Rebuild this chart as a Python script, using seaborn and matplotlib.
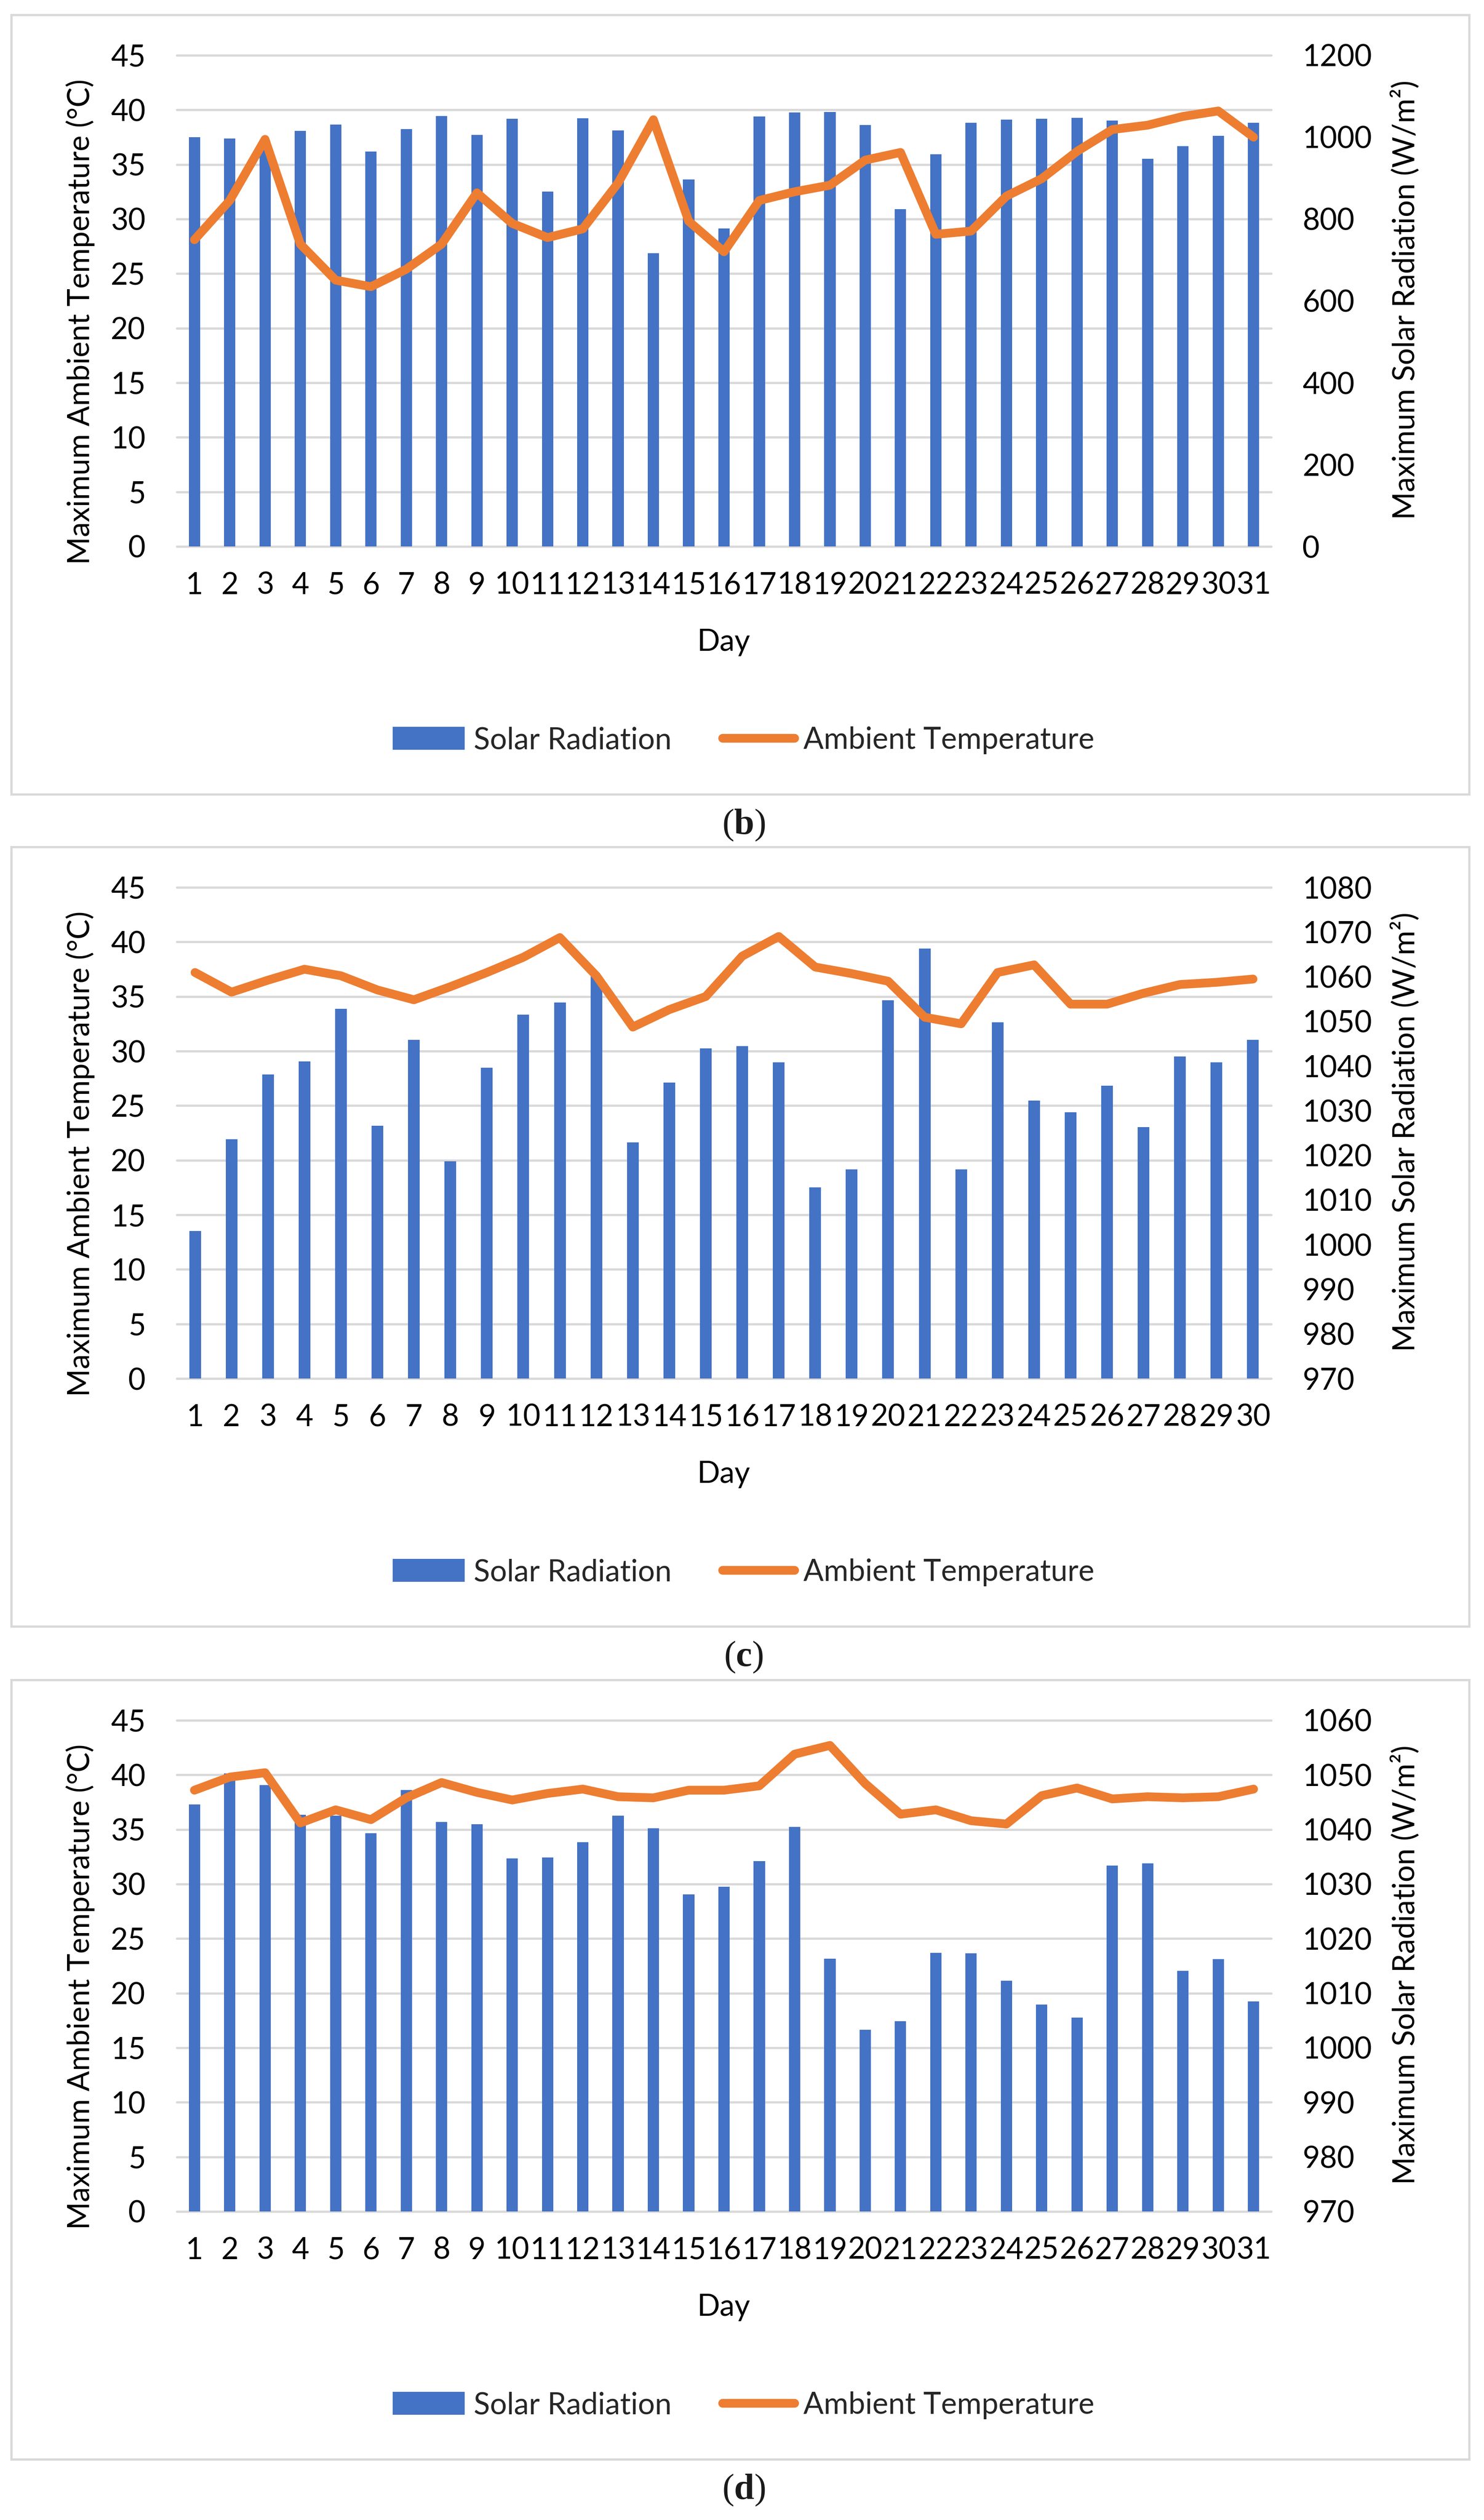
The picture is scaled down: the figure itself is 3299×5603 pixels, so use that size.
import numpy as np
import pandas as pd
import matplotlib
matplotlib.use("Agg")
import matplotlib.pyplot as plt
import seaborn as sns
from matplotlib.patches import Rectangle, Patch
from matplotlib.lines import Line2D

# ---------------- data ----------------
days_b = list(range(1, 32))
temp_b = [28.1, 31.7, 37.3, 27.7, 24.4, 23.8, 25.4, 27.7, 32.4, 29.6, 28.3, 29.1, 33.3, 39.1, 29.8, 27.0,
          31.7, 32.5, 33.1, 35.4, 36.1, 28.6, 28.9, 32.1, 33.7, 36.2, 38.2, 38.6, 39.4, 39.9, 37.5]
rad_b = [1000, 997, 970, 1015, 1031, 965, 1020, 1052, 1006, 1045, 867, 1046, 1016, 716, 897, 777,
         1051, 1060, 1061, 1030, 824, 958, 1035, 1043, 1045, 1047, 1041, 947, 978, 1003, 1035]

days_c = list(range(1, 31))
temp_c = [37.2, 35.4, 36.5, 37.5, 36.9, 35.6, 34.7, 35.9, 37.2, 38.6, 40.4, 36.9, 32.2, 33.8, 35.0,
          38.7, 40.5, 37.7, 37.1, 36.4, 33.1, 32.5, 37.2, 37.9, 34.3, 34.3, 35.3, 36.1, 36.3, 36.6]
rad_c = [1003.0, 1023.6, 1038.1, 1041.0, 1052.8, 1026.6, 1045.9, 1018.7, 1039.6, 1051.5, 1054.2, 1060.1,
         1022.9, 1036.3, 1043.9, 1044.4, 1040.8, 1012.8, 1016.8, 1054.7, 1066.3, 1016.8, 1049.8, 1032.3,
         1029.6, 1035.6, 1026.3, 1042.1, 1040.8, 1045.9]

days_d = list(range(1, 32))
temp_d = [38.6, 39.8, 40.2, 35.6, 36.8, 35.9, 37.9, 39.3, 38.4, 37.7, 38.3, 38.7, 38.0, 37.9, 38.6, 38.6,
          39.0, 41.9, 42.7, 39.2, 36.4, 36.8, 35.8, 35.5, 38.1, 38.8, 37.8, 38.0, 37.9, 38.0, 38.7]
rad_d = [1044.6, 1050.3, 1048.1, 1042.7, 1042.5, 1039.3, 1047.2, 1041.4, 1041.0, 1034.7, 1034.9, 1037.7,
         1042.5, 1040.2, 1028.1, 1029.5, 1034.2, 1040.5, 1016.3, 1003.3, 1004.9, 1017.4, 1017.3, 1012.3,
         1007.9, 1005.5, 1033.4, 1033.8, 1014.1, 1016.2, 1008.5]

temp_ticks = list(range(0, 46, 5))
rad_ticks_b = list(range(0, 1201, 200))
rad_ticks_c = list(range(970, 1081, 10))
rad_ticks_d = list(range(970, 1061, 10))
captions = ["b", "c", "d"]

left_label = "Maximum Ambient Temperature (\u00b0C)"
right_label = "Maximum Solar Radiation (W/m\u00b2)"
x_label = "Day"
series_names = ["Solar Radiation", "Ambient Temperature"]

# ---------------- style ----------------
BLUE = "#4472C4"
ORANGE = "#ED7D31"
GRID = "#D9D9D9"
W, H, DPI = 3299, 5603, 100
FS = 48
LW = 14

sns.set_theme(style="white")
plt.rcParams["font.family"] = ["Lato", "DejaVu Sans"]
plt.rcParams["mathtext.fontset"] = "custom"
plt.rcParams["mathtext.rm"] = "Liberation Serif"
plt.rcParams["mathtext.bf"] = "Liberation Serif:bold"

fig = plt.figure(figsize=(W / DPI, H / DPI), dpi=DPI, facecolor="white")

panels = [
    (days_b, temp_b, rad_b, rad_ticks_b, 0),
    (days_c, temp_c, rad_c, rad_ticks_c, 1850),
    (days_d, temp_d, rad_d, rad_ticks_d, 3702),
]

PL, PR, PT, PB = 393, 2826, 123, 1215

for (days, temp, rad, rticks, off), cap in zip(panels, captions):
    df = pd.DataFrame({"Day": days, "Temp": temp, "Rad": rad})
    rect = [PL / W, 1 - (PB + off) / H, (PR - PL) / W, (PB - PT) / H]

    ax_g = fig.add_axes(rect)
    ax_b = ax_g.twinx()
    ax_l = fig.add_axes(rect, sharex=ax_g, sharey=ax_g)
    ax_g.set_zorder(1)
    ax_b.set_zorder(2)
    ax_l.set_zorder(3)
    ax_b.patch.set_visible(False)
    ax_l.patch.set_visible(False)

    sns.barplot(data=df, x="Day", y="Rad", ax=ax_b, native_scale=True, width=0.32,
                color=BLUE, saturation=1, linewidth=0, errorbar=None)
    sns.lineplot(data=df, x="Day", y="Temp", ax=ax_l, color=ORANGE, linewidth=LW,
                 solid_capstyle="round", solid_joinstyle="round", legend=False)

    ax_g.set_xlim(0.5, len(days) + 0.5)
    ax_g.set_ylim(temp_ticks[0], temp_ticks[-1])
    ax_g.set_yticks(temp_ticks)
    ax_g.set_xticks(days)
    ax_g.set_xticklabels([str(d) for d in days])
    ax_b.set_ylim(rticks[0], rticks[-1])
    ax_b.set_yticks(rticks)
    ax_b.set_yticklabels([str(t) for t in rticks])

    ax_g.grid(axis="y", color=GRID, linewidth=3.6)
    ax_g.grid(axis="x", visible=False)
    for gl in ax_g.yaxis.get_gridlines():
        gl.set_clip_on(False)
    ax_b.grid(False)
    ax_l.axis("off")
    for a in (ax_g, ax_b):
        for s in a.spines.values():
            s.set_visible(False)
    ax_g.tick_params(axis="y", length=0, pad=50, labelsize=FS, labelcolor="black")
    ax_g.tick_params(axis="x", length=0, pad=40, labelsize=FS, labelcolor="black")
    ax_b.tick_params(axis="y", length=0, pad=50, labelsize=FS, labelcolor="black")

    ax_g.set_ylabel(left_label, fontsize=FS, color="black")
    ax_g.yaxis.set_label_coords(-0.088, 0.458)
    ax_g.yaxis.label.set_verticalalignment("center")
    ax_b.set_ylabel(right_label, fontsize=FS, color="black", rotation=90)
    ax_b.yaxis.set_label_coords(1.1225, 0.502)
    ax_b.yaxis.label.set_verticalalignment("center")
    ax_g.set_xlabel(x_label, fontsize=FS, color="black")
    ax_g.xaxis.set_label_coords(0.5, (PB - 1428) / (PB - PT))
    ax_g.xaxis.label.set_verticalalignment("center")

    handles = [Patch(facecolor=BLUE, edgecolor="none"),
               Line2D([0], [0], color=ORANGE, linewidth=LW, solid_capstyle="round")]
    ax_g.legend(handles, series_names, loc="center", ncol=2, frameon=False,
                bbox_to_anchor=((1653 - PL) / (PR - PL), (PB - 1646) / (PB - PT)),
                fontsize=FS, handlelength=2.4, handletextpad=0.3, columnspacing=1.7,
                handleheight=0.8)

    fig.add_artist(Rectangle((25 / W, 1 - (1766 + off) / H), (3266 - 25) / W, (1766 - 33) / H,
                             transform=fig.transFigure, fill=False, edgecolor=GRID, linewidth=3.6))
    fig.text(1653 / W, 1 - (1835 + off) / H, "($\\mathbf{%s}$)" % cap, ha="center", va="center",
             fontsize=58, family=["Liberation Serif", "DejaVu Serif"], color="#1a1a1a")

fig.savefig("out.png", dpi=DPI, facecolor="white")
